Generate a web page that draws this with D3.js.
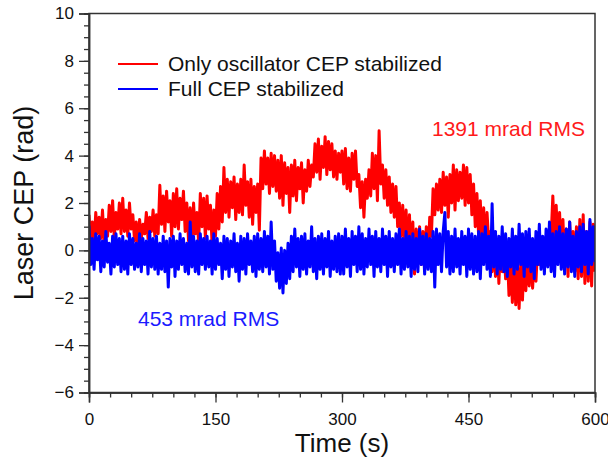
<!DOCTYPE html>
<html>
<head>
<meta charset="utf-8">
<script src="https://cdn.jsdelivr.net/npm/d3@7"></script>
<style>
  body { margin: 0; background: #fff; }
  svg { display: block; font-family: "Liberation Sans", Arial, sans-serif; }
</style>
</head>
<body>
<div id="chart"></div>
<script>
// sample step of the traces, seconds
const STEP = 2;

// Only oscillator CEP stabilized (rad), one value every 2 s from 0 to 600 s
const redCep = [
  1.5, 0.4, 1.2, 0.2, 1.6, 0.7, 1.4, 0.5, 1.7, 0.3,
  1.3, 0.6, 1.9, 0.8, 2.1, 0.5, 1.6, 0.9, 2.0, 0.7,
  2.2, 0.8, 1.7, 0.6, 2.0, 0.9, 1.5, 0.4, 1.2, 0.1,
  1.3, 0.5, 1.1, 0.7, 1.6, 0.5, 1.4, 0.8, 1.7, 0.6,
  1.5, 0.7, 2.75, 1.1, 2.3, 0.8, 2.5, 1.2, 2.1, 0.6,
  2.4, 1.0, 2.6, 0.9, 2.2, 1.3, 2.5, 0.8, 2.0, 0.4,
  1.8, 0.2, 2.0, 0.7, 1.6, 0.3, 2.4, 1.0, 2.2, 0.5,
  2.3, 0.9, 1.9, 0.2, 1.7, 0.6, 2.4, 0.9, 2.7, 1.2,
  3.5, 1.6, 3.0, 1.4, 2.9, 1.8, 3.1, 1.3, 2.8, 1.6,
  3.0, 1.5, 3.6, 1.9, 2.9, 1.4, 3.0, 1.1, 2.7, 1.6,
  2.8, 0.85, 3.9, 2.6, 4.2, 2.8, 3.9, 2.4, 4.1, 2.7,
  4.0, 2.5, 3.8, 2.2, 4.0, 1.9, 3.7, 2.4, 3.5, 1.6,
  3.6, 2.3, 3.8, 2.1, 3.5, 2.6, 3.7, 2.0, 3.4, 2.5,
  3.8, 2.7, 3.6, 3.1, 4.5, 3.3, 4.7, 3.0, 4.4, 3.5,
  4.8, 3.2, 4.6, 3.4, 4.5, 3.1, 4.2, 3.0, 4.1, 3.3,
  4.2, 2.8, 4.3, 2.6, 3.9, 2.5, 4.1, 3.0, 4.2, 2.7,
  3.2, 1.8, 2.9, 1.4, 3.0, 2.2, 3.4, 2.3, 4.1, 2.6,
  4.0, 2.1, 5.05, 2.8, 3.6, 2.2, 3.4, 1.9, 3.1, 1.6,
  2.8, 1.4, 2.7, 1.0, 2.0, 0.6, 1.9, 0.3, 1.7, -0.2,
  1.5, -0.6, 1.2, -1.0, 0.9, -0.4, 1.0, -0.6, 0.8, -0.2,
  1.0, -0.5, 1.4, 0.6, 2.6, 1.5, 2.8, 1.7, 3.0, 1.6,
  3.3, 1.9, 3.1, 1.4, 3.2, 2.0, 3.6, 1.7, 3.4, 2.1,
  3.3, 2.2, 3.6, 1.9, 3.5, 2.0, 3.2, 1.5, 2.8, 1.0,
  2.4, 0.6, 2.1, 0.2, 1.8, 0.0, 1.6, 0.3, 0.8, -0.9,
  0.6, -1.1, 0.4, -1.4, 0.3, -0.9, 0.2, -1.2, -0.1, -1.9,
  -0.3, -2.2, -0.4, -2.3, -0.6, -2.45, -0.5, -2.1, -0.2, -1.7,
  -0.1, -1.5, 0.0, -1.6, -0.3, -1.3, 0.2, -0.6, 0.4, -0.5,
  0.5, -0.4, 0.3, -0.6, 0.6, 2.3, 0.4, 1.9, 0.1, 1.6,
  -0.1, 1.3, -0.7, 0.9, -1.1, 1.2, -0.6, 0.8, -0.9, 1.0,
  -1.2, 1.3, -1.1, 1.5, -1.4, 0.8, -1.3, 1.2, -1.5, 1.1,
  -0.9
];

// Full CEP stabilized (rad), same time grid
const blueCep = [
  1.05, -0.6, 0.5, -0.8, 0.7, -0.4, 0.6, -0.9, 0.4, -0.7,
  0.8, -0.5, 0.3, -1.0, 0.6, -0.7, 0.7, -0.6, 0.5, -0.9,
  0.6, -0.8, 0.4, -1.0, 0.7, -0.6, 0.5, -0.8, 0.3, -0.7,
  0.7, -0.9, 0.5, -0.6, 0.4, -1.0, 0.8, -0.7, 0.5, -0.8,
  0.6, -1.0, 0.3, -0.8, 0.6, -0.9, 0.4, -1.55, 0.5, -0.7,
  0.6, -1.1, 0.4, -0.8, 0.7, -0.6, 0.5, -0.9, 0.3, -1.0,
  1.2, -0.7, 0.6, -0.9, 0.4, -1.0, 0.7, -0.6, 0.5, -0.8,
  0.6, -0.7, 0.4, -1.0, 0.7, -0.8, 0.5, -0.6, 0.3, -1.2,
  0.6, -0.8, 0.5, -1.1, 0.4, -0.7, 0.7, -0.9, 0.3, -1.3,
  0.6, -0.8, 0.5, -1.0, 0.7, -0.6, 0.4, -0.9, 0.6, -1.1,
  0.7, -0.8, 0.5, -0.9, 0.8, -0.7, 0.6, -1.0, 1.2, -0.8,
  0.4, -1.3, -0.1, -1.6, 0.1, -1.8, 0.0, -1.4, 0.3, -1.2,
  0.6, -0.9, 0.9, -0.7, 0.5, -1.1, 0.6, -0.8, 0.7, -1.0,
  0.4, -0.7, 1.0, -0.9, 0.5, -1.2, 0.6, -0.8, 0.7, -1.0,
  0.5, -0.7, 0.8, -1.1, 0.4, -0.8, 0.6, -0.9, 0.7, -1.0,
  0.6, -1.0, 0.9, -0.7, 0.5, -1.1, 0.8, -0.6, 0.6, -0.9,
  1.0, -0.8, 0.7, -1.0, 0.5, -0.7, 0.9, -0.6, 0.6, -1.1,
  0.8, -0.7, 0.5, -0.9, 0.9, -0.6, 0.6, -1.1, 0.8, -0.7,
  0.5, -0.9, 0.7, -0.6, 0.9, -1.0, 0.5, -0.8, 0.8, -0.7,
  0.6, -1.1, 0.7, -0.8, 0.5, -0.9, 0.9, -0.6, 0.6, -1.0,
  0.7, -0.8, 0.5, -0.9, 0.8, -1.55, 0.9, -0.6, 0.7, -0.9,
  0.8, 1.6, -0.7, 0.8, -1.0, 0.6, -0.9, 0.9, -0.7, 0.5,
  -1.0, 0.8, -0.6, 0.6, -1.1, 0.9, -0.8, 0.7, -1.0, 0.6,
  -0.9, 0.8, -1.2, 0.7, -0.6, 1.0, -0.8, 0.6, -1.1, 1.97,
  -0.7, 0.8, -1.0, 0.6, -0.8, 1.0, -0.9, 0.7, -1.1, 0.5,
  -0.7, 0.9, -1.0, 0.6, -0.8, 1.1, -0.6, 0.7, -1.1, 0.8,
  -0.7, 0.9, -0.9, 0.5, -1.2, 0.8, -0.6, 1.1, -0.8, 0.6,
  -1.0, 0.9, -0.7, 1.2, -0.9, 0.7, -1.1, 0.8, -0.6, 1.0,
  -0.8, 0.7, -1.0, 0.9, -0.7, 1.2, -0.9, 0.6, -1.1, 0.8,
  -0.7, 1.0, -0.9, 1.1, -0.6, 0.8, -1.0, 1.3, -0.6, 1.0,
  -0.5
];

const xTicks = [0, 150, 300, 450, 600];
const yTicks = [-6, -4, -2, 0, 2, 4, 6, 8, 10];

const legendItems = [
  { label: "Only oscillator CEP stabilized", color: "#ff0000" },
  { label: "Full CEP stabilized", color: "#0000ff" }
];

const W = 608, H = 460;
const margin = { top: 13.5, right: 13, bottom: 67.5, left: 89 };
const iw = W - margin.left - margin.right;
const ih = H - margin.top - margin.bottom;

const svg = d3.select("#chart").append("svg")
  .attr("width", W)
  .attr("height", H);

const g = svg.append("g").attr("transform", `translate(${margin.left},${margin.top})`);

const x = d3.scaleLinear().domain([0, 600]).range([0, iw]);
const y = d3.scaleLinear().domain([-6, 10]).range([ih, 0]);

g.append("defs").append("clipPath").attr("id", "plot-clip")
  .append("rect").attr("width", iw).attr("height", ih);

const line = d3.line()
  .x((d, i) => x(i * STEP))
  .y(d => y(d));

const traces = g.append("g").attr("clip-path", "url(#plot-clip)");
traces.append("path")
  .datum(redCep)
  .attr("fill", "none")
  .attr("stroke", "#ff0000")
  .attr("stroke-width", 3)
  .attr("stroke-linejoin", "round")
  .attr("d", line);
traces.append("path")
  .datum(blueCep)
  .attr("fill", "none")
  .attr("stroke", "#0000ff")
  .attr("stroke-width", 3)
  .attr("stroke-linejoin", "round")
  .attr("d", line);

// frame (top and right have no ticks)
g.append("rect")
  .attr("width", iw).attr("height", ih)
  .attr("fill", "none")
  .attr("stroke", "#333")
  .attr("stroke-width", 1.5);

const AXIS_COLOR = "#333";

function styleAxis(sel) {
  sel.select(".domain").attr("stroke", AXIS_COLOR).attr("stroke-width", 1.5);
  sel.selectAll(".tick line").attr("stroke", AXIS_COLOR).attr("stroke-width", 1.3);
  sel.selectAll("text")
    .attr("font-size", 17)
    .attr("fill", "#111")
    .attr("font-family", "\"Liberation Sans\", Arial, sans-serif");
}

// minor ticks
g.append("g")
  .attr("transform", `translate(0,${ih})`)
  .call(d3.axisBottom(x).tickValues(d3.range(0, 601, 25)).tickSize(5).tickFormat(""))
  .call(styleAxis);
g.append("g")
  .call(d3.axisLeft(y).tickValues(d3.range(-6, 10.01, 0.5)).tickSize(5).tickFormat(""))
  .call(styleAxis);

// major ticks
g.append("g")
  .attr("transform", `translate(0,${ih})`)
  .call(d3.axisBottom(x).tickValues(xTicks).tickSize(10).tickPadding(10).tickFormat(d3.format("d")))
  .call(styleAxis);
g.append("g")
  .call(d3.axisLeft(y).tickValues(yTicks).tickSize(10).tickPadding(5).tickFormat(d3.format("d")))
  .call(styleAxis);

// axis titles
svg.append("text")
  .attr("x", margin.left + iw / 2)
  .attr("y", 452)
  .attr("text-anchor", "middle")
  .attr("font-size", 26)
  .attr("fill", "#111")
  .text("Time (s)");

svg.append("text")
  .attr("transform", `translate(33,${margin.top + ih / 2}) rotate(-90)`)
  .attr("text-anchor", "middle")
  .attr("font-size", 27)
  .attr("fill", "#111")
  .text("Laser CEP (rad)");

// legend
const legend = svg.append("g");
legendItems.forEach((item, i) => {
  const ly = 64 + i * 25;
  legend.append("line")
    .attr("x1", 118).attr("x2", 158)
    .attr("y1", ly).attr("y2", ly)
    .attr("stroke", item.color)
    .attr("stroke-width", 2);
  legend.append("text")
    .attr("x", 168).attr("y", ly + 7)
    .attr("font-size", 21)
    .attr("fill", "#111")
    .text(item.label);
});

// RMS annotations
svg.append("text")
  .attr("x", 432).attr("y", 136)
  .attr("font-size", 21)
  .attr("fill", "#ff1a1a")
  .text("1391 mrad RMS");
svg.append("text")
  .attr("x", 138).attr("y", 326)
  .attr("font-size", 21)
  .attr("fill", "#1a1aff")
  .text("453 mrad RMS");
</script>
</body>
</html>
